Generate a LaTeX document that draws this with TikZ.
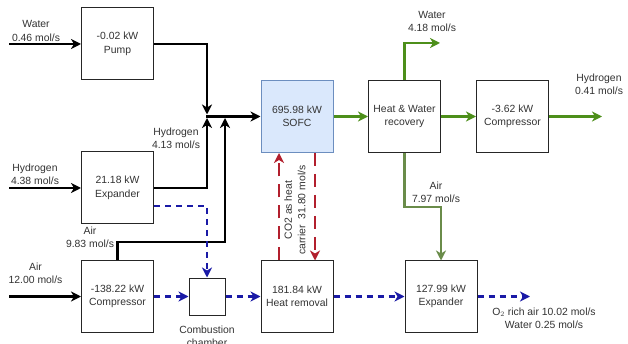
\documentclass[tikz,border=0pt]{standalone}
\usepackage{fontspec}
\setmainfont{Liberation Sans}
\usetikzlibrary{arrows.meta,calc}
\definecolor{grn}{HTML}{4D8F1A}
\definecolor{olv}{HTML}{6A8C4A}
\definecolor{blu}{HTML}{1A1AA6}
\definecolor{rd}{HTML}{B21F2D}
\definecolor{sofcfill}{HTML}{DAE8FC}
\definecolor{sofcdraw}{HTML}{6C8EBF}
\begin{document}
\begin{tikzpicture}[x=1pt,y=-1pt,
  font=\fontsize{10.4}{13.5}\selectfont,
  box/.style={draw=black!85,line width=1pt,minimum width=72pt,minimum height=72pt,align=center,inner sep=0pt,text=black!80},
  lbl/.style={align=center,inner sep=0pt,text=black!80},
  tip/.style={-{Stealth[length=10pt,width=10pt,inset=3pt]}},
  blk/.style={draw=black,line width=2.1pt,tip},
  gline/.style={draw=grn,line width=2.1pt,tip},
  oline/.style={draw=olv,line width=2.1pt,tip},
  bline/.style={draw=blu,line width=2.1pt,dash pattern=on 6pt off 5pt,tip},
  rline/.style={draw=rd,line width=2.1pt,dash pattern=on 13pt off 8pt,tip}]
\useasboundingbox (0,0) rectangle (628,344);
\fill[white] (0,0) rectangle (628,344);

% boxes
\node[box] (pump) at (117.5,44) {-0.02 kW\\Pump};
\node[box] (exp1) at (117.5,188) {21.18 kW\\Expander};
\node[box,minimum height=71pt] (comp1) at (117.5,296.5) {-138.22 kW\\Compressor};
\node[box,minimum width=36pt,minimum height=37pt] (cc) at (207,296.5) {};
\node[box,minimum height=71pt] (hr) at (297,296.5) {181.84 kW\\Heat removal};
\node[box,minimum height=71pt] (exp2) at (441,296.5) {127.99 kW\\Expander};
\node[box,fill=sofcfill,draw=sofcdraw] (sofc) at (297,116.5) {695.98 kW\\SOFC};
\node[box] (hw) at (404.5,116.5) {Heat \& Water\\recovery};
\node[box] (c2) at (512.5,116.5) {-3.62 kW\\Compressor};

% coordinates
\coordinate (win) at (9,44);
\coordinate (hin) at (9,188);
\coordinate (ain) at (9,296.5);
\coordinate (Jt) at (207,114.5);
\coordinate (Jb) at (207,118);
\coordinate (Ja) at (225,118);
\coordinate (J) at (206,116.5);
\coordinate (A1) at (225,242);
\coordinate (B1) at (207,206);
\coordinate (Wout) at (440,43);
\coordinate (Hout) at (602,116.5);
\coordinate (A2) at (441,207);
\coordinate (Oout) at (530,296.5);

% black lines
\draw[blk] (win) -- (pump.west);
\draw[blk] (hin) -- (exp1.west);
\draw[blk] (ain) -- (comp1.west);
\draw[blk] (pump.east) -| (Jt);
\draw[blk] (exp1.east) -| (Jb);
\draw[blk] (comp1.north) |- (A1) -- (Ja);
\draw[blk] (J) -- (sofc.west);

% blue dashed
\draw[bline] (exp1.east |- B1) -- (B1) -- (cc.north);
\draw[bline] (comp1.east) -- (cc.west);
\draw[bline] (cc.east) -- (hr.west);
\draw[bline] (hr.east) -- (exp2.west);
\draw[bline] (exp2.east) -- (Oout);

% red dashed
\draw[rline] ([xshift=-18pt]hr.north) -- ([xshift=-18pt]sofc.south);
\draw[rline] ([xshift=18pt]sofc.south) -- ([xshift=18pt]hr.north);

% green
\draw[gline] (sofc.east) -- (hw.west);
\draw[gline] (hw.north) |- (Wout);
\draw[gline] (hw.east) -- (c2.west);
\draw[gline] (c2.east) -- (Hout);
\draw[oline] (hw.south) |- (A2) -- (exp2.north);

% labels
\node[lbl] (l1) at (36,31) {Water\\0.46 mol/s};
\node[lbl] (l2) at (35,174.5) {Hydrogen\\4.38 mol/s};
\node[lbl] (l3) at (35.5,273.5) {Air\\12.00 mol/s};
\node[lbl] (l4) at (176,138.5) {Hydrogen\\4.13 mol/s};
\node[lbl] (l5) at (90,237.5) {Air\\9.83 mol/s};
\node[lbl] (l6) at (207,336.5) {Combustion\\chamber};
\node[lbl,rotate=90] (l7) at (295,210) {CO2 as heat\\carrier\ \ 31.80 mol/s};
\node[lbl] (l8) at (432,21.5) {Water\\4.18 mol/s};
\node[lbl] (l9) at (599,84.5) {Hydrogen\\0.41 mol/s};
\node[lbl] (l10) at (436,192.5) {Air\\7.97 mol/s};
\node[lbl] (l11) at (544,318.5) {O$_2$ rich air 10.02 mol/s\\Water 0.25 mol/s};
\end{tikzpicture}
\end{document}
